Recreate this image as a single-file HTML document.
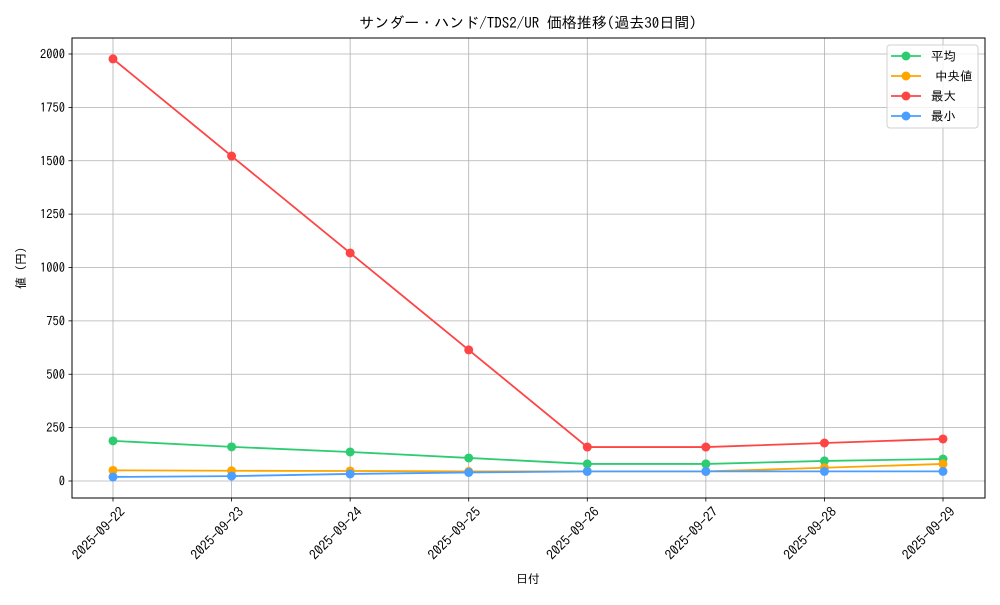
<!DOCTYPE html>
<html><head><meta charset="utf-8"><style>
html,body{margin:0;padding:0;background:#fff;}
svg text{font-family:"IPAGothic","Noto Sans CJK JP","Liberation Sans",sans-serif;fill:#000;}
</style></head><body>
<svg id="chart" width="1000" height="600" xmlns="http://www.w3.org/2000/svg">
<text x="528" y="28" font-size="15" text-anchor="middle">サンダー・ハンド/TDS2/UR 価格推移(過去30日間)</text>
<text x="528" y="583" font-size="12" text-anchor="middle">日付</text>
<text transform="translate(25,268) rotate(-90)" font-size="12" text-anchor="middle">値 (円)</text>
</svg>
<script>
const categories=["2025-09-22","2025-09-23","2025-09-24","2025-09-25","2025-09-26","2025-09-27","2025-09-28","2025-09-29"];
const avgValues=[188,160,136,108,80,80,94,103];
const medianValues=[50,48,47,45,45,45,62,80];
const maxValues=[1977,1522,1068,614,159,159,178,197];
const minValues=[19,23,33,40,45,45,45,45];
const yTicks=[0,250,500,750,1000,1250,1500,1750,2000];
const seriesNames=["平均","中央値","最大","最小"];
const svg=document.getElementById('chart');const NS="http://www.w3.org/2000/svg";
const L=72,R=985,T=38,B=498;
const xs=i=>113+i*(943-113)/(categories.length-1);
const ys=v=>481-v*(427/2000);
function mk(t,a,p){const e=document.createElementNS(NS,t);for(const k in a)e.setAttribute(k,a[k]);(p||svg).appendChild(e);return e;}
const grid=mk('g',{});


yTicks.forEach(v=>{const y=ys(v);
mk('line',{x1:L,x2:R,y1:y,y2:y,stroke:'#b0b0b0','stroke-width':0.8},grid);
mk('line',{x1:L-3.5,x2:L,y1:y,y2:y,stroke:'#000','stroke-width':0.8});
const t=mk('text',{x:L-7,y:y+4.5,'font-size':12.5,'text-anchor':'end'});t.textContent=v;

});
categories.forEach((c,i)=>{const x=xs(i);
mk('line',{x1:x,x2:x,y1:T,y2:B,stroke:'#b0b0b0','stroke-width':0.8},grid);
mk('line',{x1:x,x2:x,y1:B,y2:B+3.5,stroke:'#000','stroke-width':0.8});
const t=mk('text',{transform:`translate(${x+6},${B+8}) rotate(-45)`,'font-size':13.5,'text-anchor':'end','dominant-baseline':'hanging'});t.textContent=c;

});
const frame=mk('rect',{x:L,y:T,width:R-L,height:B-T,fill:'none',stroke:'#000','stroke-width':1});


const series=[[avgValues,'#2ecc71','series-average'],[medianValues,'#ffa500','series-median'],[maxValues,'#ff4444','series-max'],[minValues,'#4a9eff','series-min']];
series.forEach(([vals,col,name])=>{const g=mk('g',{});


mk('polyline',{points:vals.map((v,i)=>xs(i)+','+ys(v)).join(' '),fill:'none',stroke:col,'stroke-width':1.8},g);
vals.forEach((v,i)=>{const c=mk('circle',{cx:xs(i),cy:ys(v),r:4.5,fill:col},g);

});});
const lg=mk('g',{});


mk('rect',{x:887,y:45,width:91,height:83,rx:3,fill:'#fff','fill-opacity':0.8,stroke:'#d0d0d0'},lg);
series.forEach(([v,col],i)=>{const y=56+i*20;
const e=mk('g',{},lg);


mk('line',{x1:891,x2:921,y1:y,y2:y,stroke:col,'stroke-width':1.8},e);
mk('circle',{cx:906,cy:y,r:4.5,fill:col},e);
const t=mk('text',{x:(i===1?935:931),y:y+4.5,'font-size':12.5},e);t.textContent=seriesNames[i];});
</script>
</body></html>
